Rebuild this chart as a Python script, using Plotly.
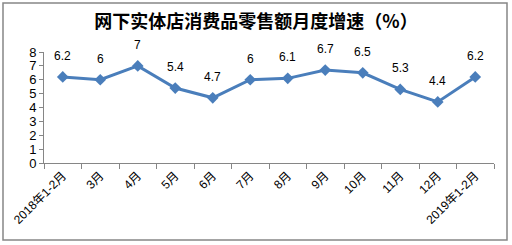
import plotly.graph_objects as go

categories = ["2018年1-2月", "3月", "4月", "5月", "6月", "7月", "8月", "9月", "10月", "11月", "12月", "2019年1-2月"]
values = [6.2, 6, 7, 5.4, 4.7, 6, 6.1, 6.7, 6.5, 5.3, 4.4, 6.2]
labels = ["6.2", "6", "7", "5.4", "4.7", "6", "6.1", "6.7", "6.5", "5.3", "4.4", "6.2"]

L, R, T, B = 44, 18, 52, 82
W, H = 512, 245
pw, ph = W - L - R, H - T - B

def px(x):
    return (x - L) / pw

def py(y):
    return (H - B - y) / ph

fig = go.Figure()
fig.add_trace(go.Scatter(
    x=categories, y=values, mode="lines+markers",
    line=dict(color="#4a7ebb", width=3),
    marker=dict(symbol="diamond", size=9, color="#4a7ebb"),
    cliponaxis=False, hoverinfo="skip",
))

annotations = [
    dict(x=c, y=v, text=t, showarrow=False, yshift=21, xref="x", yref="y",
         font=dict(size=12, color="#000000", family="Liberation Sans"))
    for c, v, t in zip(categories, values, labels)
]

fig.update_layout(
    width=W, height=H,
    margin=dict(l=L, r=R, t=T, b=B),
    paper_bgcolor="white", plot_bgcolor="white",
    showlegend=False,
    font=dict(family="Noto Sans CJK SC", size=11, color="#000000"),
    title=dict(text="<b>网下实体店消费品零售额月度增速（%）</b>",
               x=0.5, xanchor="center", y=1 - 22 / H, yanchor="middle",
               font=dict(size=18, family="Noto Sans CJK SC", color="#000000")),
    xaxis=dict(type="category", range=[-0.5, 11.5], showline=True, linecolor="#868686",
               linewidth=1, ticks="outside", ticklen=5, tickcolor="#868686",
               tickson="boundaries", tickangle=-45, showgrid=False, zeroline=False,
               tickfont=dict(size=12, family="Liberation Sans, Noto Sans CJK SC")),
    yaxis=dict(range=[0, 8], dtick=1, showline=True, linecolor="#868686", linewidth=1,
               ticks="outside", ticklen=4, tickcolor="#868686", showgrid=False,
               zeroline=False, tickfont=dict(size=13, family="Liberation Sans")),
    annotations=annotations,
    shapes=[dict(type="rect", xref="paper", yref="paper",
                 x0=px(3), x1=px(507), y0=py(240), y1=py(3),
                 line=dict(color="#868686", width=1.5), layer="below")],
)

fig.write_html("out.html")
